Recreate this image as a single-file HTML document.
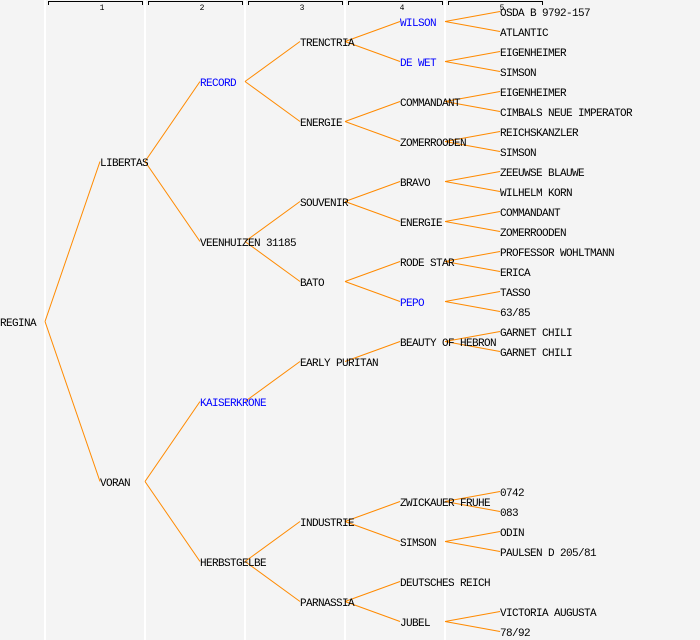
<!DOCTYPE html>
<html><head><meta charset="utf-8"><style>
html,body{margin:0;padding:0;background:#f4f4f4;}
svg{display:block;}
text{font-family:"Liberation Mono",monospace;font-size:11px;letter-spacing:-0.6px;fill:#000;}
.b{fill:#0000ff;}
.n{font-size:8px;letter-spacing:0;}
line.o{stroke:#ff8a00;stroke-width:1;}
</style></head><body>
<svg width="700" height="640" xmlns="http://www.w3.org/2000/svg">
<rect width="700" height="640" fill="#f4f4f4"/>
<g fill="#ffffff">
<rect x="44" y="0" width="2" height="640"/>
<rect x="144" y="0" width="2" height="640"/>
<rect x="244" y="0" width="2" height="640"/>
<rect x="344" y="0" width="2" height="640"/>
<rect x="444" y="0" width="2" height="640"/>
</g>
<g stroke="#000" stroke-width="1" fill="none">
<path d="M48.5 5V1.5H142.5V5"/>
<path d="M148.5 5V1.5H242.5V5"/>
<path d="M248.5 5V1.5H342.5V5"/>
<path d="M348.5 5V1.5H442.5V5"/>
<path d="M448.5 5V1.5H542.5V5"/>
</g>
<g text-anchor="middle">
<text class="n" x="102" y="10">1</text>
<text class="n" x="202" y="10">2</text>
<text class="n" x="302" y="10">3</text>
<text class="n" x="402" y="10">4</text>
<text class="n" x="502" y="10">5</text>
</g>
<g id="lines"></g>
<g id="labels"></g>
<script>
var nodes=[
[0,322,"REGINA",0],
[1,162,"LIBERTAS",0],[1,482,"VORAN",0],
[2,82,"RECORD",1],[2,242,"VEENHUIZEN 31185",0],[2,402,"KAISERKRONE",1],[2,562,"HERBSTGELBE",0],
[3,42,"TRENCTRIA",0],[3,122,"ENERGIE",0],[3,202,"SOUVENIR",0],[3,282,"BATO",0],[3,362,"EARLY PURITAN",0],[3,522,"INDUSTRIE",0],[3,602,"PARNASSIA",0],
[4,22,"WILSON",1],[4,62,"DE WET",1],[4,102,"COMMANDANT",0],[4,142,"ZOMERROODEN",0],[4,182,"BRAVO",0],[4,222,"ENERGIE",0],[4,262,"RODE STAR",0],[4,302,"PEPO",1],[4,342,"BEAUTY OF HEBRON",0],[4,502,"ZWICKAUER FRUHE",0],[4,542,"SIMSON",0],[4,582,"DEUTSCHES REICH",0],[4,622,"JUBEL",0],
[5,12,"OSDA B 9792-157",0],[5,32,"ATLANTIC",0],[5,52,"EIGENHEIMER",0],[5,72,"SIMSON",0],[5,92,"EIGENHEIMER",0],[5,112,"CIMBALS NEUE IMPERATOR",0],[5,132,"REICHSKANZLER",0],[5,152,"SIMSON",0],[5,172,"ZEEUWSE BLAUWE",0],[5,192,"WILHELM KORN",0],[5,212,"COMMANDANT",0],[5,232,"ZOMERROODEN",0],[5,252,"PROFESSOR WOHLTMANN",0],[5,272,"ERICA",0],[5,292,"TASSO",0],[5,312,"63/85",0],[5,332,"GARNET CHILI",0],[5,352,"GARNET CHILI",0],[5,492,"0742",0],[5,512,"083",0],[5,532,"ODIN",0],[5,552,"PAULSEN D 205/81",0],[5,612,"VICTORIA AUGUSTA",0],[5,632,"78/92",0]
];
var ns="http://www.w3.org/2000/svg";
var L=document.getElementById("lines"),T=document.getElementById("labels");
var spans=[160,80,40,20,10];
nodes.forEach(function(n){
  var t=document.createElementNS(ns,"text");
  t.setAttribute("x",n[0]*100);t.setAttribute("y",n[1]+4);
  if(n[3])t.setAttribute("class","b");
  t.textContent=n[2];T.appendChild(t);
  if(n[0]<5){
    var d=spans[n[0]];
    [n[1]-d,n[1]+d].forEach(function(cy){
      var c=nodes.find(function(m){return m[0]==n[0]+1&&m[1]==cy;});
      if(c){
        var l=document.createElementNS(ns,"line");
        l.setAttribute("class","o");
        l.setAttribute("x1",n[0]*100+45);l.setAttribute("y1",n[1]-0.5);
        l.setAttribute("x2",c[0]*100);l.setAttribute("y2",c[1]-0.5);
        L.appendChild(l);
      }
    });
  }
});
</script>
</svg>
</body></html>
